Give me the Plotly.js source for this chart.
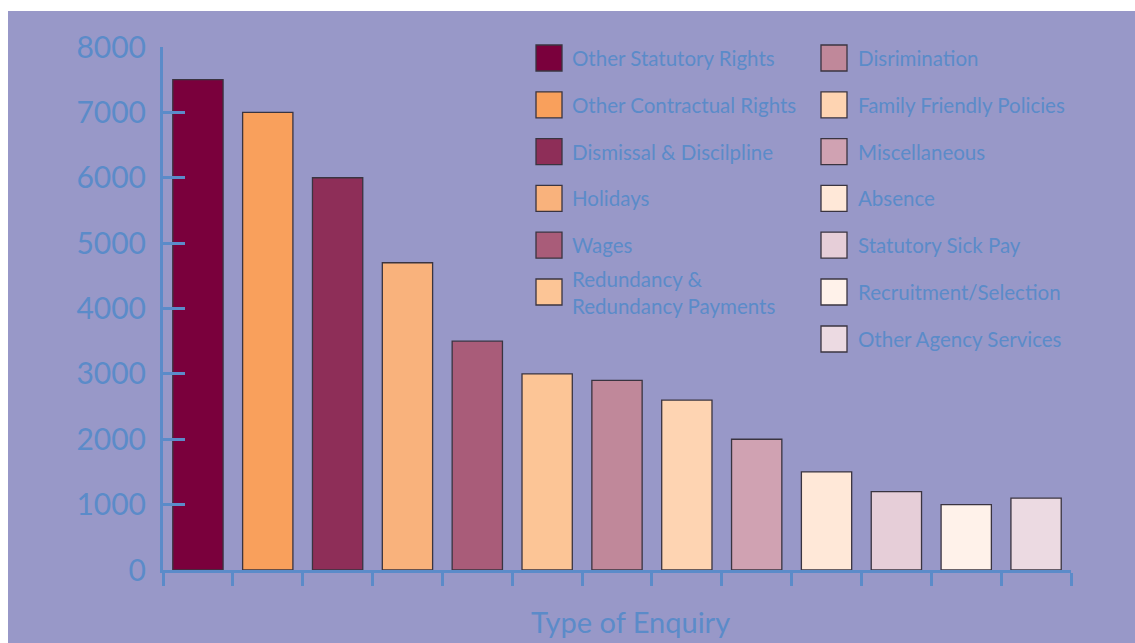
<!DOCTYPE html>
<html>
<head>
<meta charset="utf-8">
<script src="https://cdn.plot.ly/plotly-3.0.1.min.js"></script>
<style>
  html, body { margin: 0; padding: 0; background: #ffffff; overflow: hidden; }
  #chart { position: absolute; left: 8px; top: 11px; width: 1127px; height: 632px; }
</style>
</head>
<body>
<div id="chart"></div>
<script>
// ---- data ----
const categories = [
  "Other Statutory Rights", "Other Contractual Rights", "Dismissal & Discilpline",
  "Holidays", "Wages", "Redundancy & Redundancy Payments", "Disrimination",
  "Family Friendly Policies", "Miscellaneous", "Absence", "Statutory Sick Pay",
  "Recruitment/Selection", "Other Agency Services"
];
const legendLabels = [
  "Other Statutory Rights", "Other Contractual Rights", "Dismissal & Discilpline",
  "Holidays", "Wages", "Redundancy &<br>Redundancy Payments", "Disrimination",
  "Family Friendly Policies", "Miscellaneous", "Absence", "Statutory Sick Pay",
  "Recruitment/Selection", "Other Agency Services"
];
const enquiries = [7500, 7000, 6000, 4700, 3500, 3000, 2900, 2600, 2000, 1500, 1200, 1000, 1100];
const barColors = [
  "#7a003c", "#f9a05c", "#8e2e58", "#f9b27c", "#a95c79", "#fcc596", "#c0889a",
  "#fed4b2", "#d0a2b2", "#ffe8d8", "#e6ced8", "#fff2ea", "#ecdae2"
];
const yTicks = [0, 1000, 2000, 3000, 4000, 5000, 6000, 7000, 8000];
const xTitle = "Type of Enquiry";

// ---- styling ----
const blue = "#5b8bc9";
const bg = "#9898c8";
const fontFam = "Lato, 'Open Sans', sans-serif";

// plot area geometry in page pixels (for legend placement)
const PX0 = 163, PW = 908, PY0 = 570, PH = 523;
const toX = p => (p - PX0) / PW;
const toY = p => (PY0 - p) / PH;

const trace = {
  type: "bar",
  x: categories,
  y: enquiries,
  marker: { color: barColors, line: { color: "#3a3440", width: 1.3 } },
  width: 0.72,
  showlegend: false,
  hoverinfo: "x+y"
};

// manual two-column legend built from the arrays
const shapes = [];
const annotations = [];
const rowCenters = [58, 104.8, 151.6, 198.4, 245.2, 292, 339];
categories.forEach((c, i) => {
  const col = i < 6 ? 0 : 1;
  const row = col === 0 ? i : i - 6;
  const bx0 = col === 0 ? 536 : 821;
  const tx = col === 0 ? 570 : 856;
  const cy = rowCenters[row];
  shapes.push({
    type: "rect", xref: "paper", yref: "paper",
    x0: toX(bx0), x1: toX(bx0 + 26), y0: toY(cy + 13), y1: toY(cy - 13),
    fillcolor: barColors[i], line: { color: "#3a3440", width: 1.3 }
  });
  annotations.push({
    xref: "paper", yref: "paper", x: toX(tx), y: toY(cy),
    xanchor: "left", yanchor: "middle", align: "left", showarrow: false,
    text: legendLabels[i],
    font: { family: fontFam, size: 20.5, color: blue }
  });
});

// x-axis title
annotations.push({
  xref: "paper", yref: "paper", x: toX(630), y: toY(621),
  xanchor: "center", yanchor: "middle", showarrow: false,
  text: xTitle,
  font: { family: fontFam, size: 29, color: blue }
});

const layout = {
  width: 1127, height: 632,
  margin: { l: 155, r: 64, t: 36, b: 73 },
  paper_bgcolor: bg,
  plot_bgcolor: "rgba(0,0,0,0)",
  font: { family: fontFam, color: blue },
  xaxis: {
    type: "category",
    range: [-0.5, 12.5],
    showticklabels: false,
    tickson: "boundaries",
    ticks: "outside", ticklen: 13, tickwidth: 2.5, tickcolor: blue,
    showline: true, linecolor: blue, linewidth: 3,
    showgrid: false, zeroline: false
  },
  yaxis: {
    range: [0, 8000],
    tickmode: "array", tickvals: yTicks, ticktext: yTicks.map(String),
    ticks: "inside", ticklen: 22, tickwidth: 2.5, tickcolor: blue,
    ticklabelstandoff: 8,
    tickfont: { family: fontFam, size: 30, color: blue },
    showline: true, linecolor: blue, linewidth: 3,
    showgrid: false, zeroline: false
  },
  shapes: shapes,
  annotations: annotations,
  showlegend: false
};

Plotly.newPlot("chart", [trace], layout, { displayModeBar: false });
</script>
</body>
</html>
